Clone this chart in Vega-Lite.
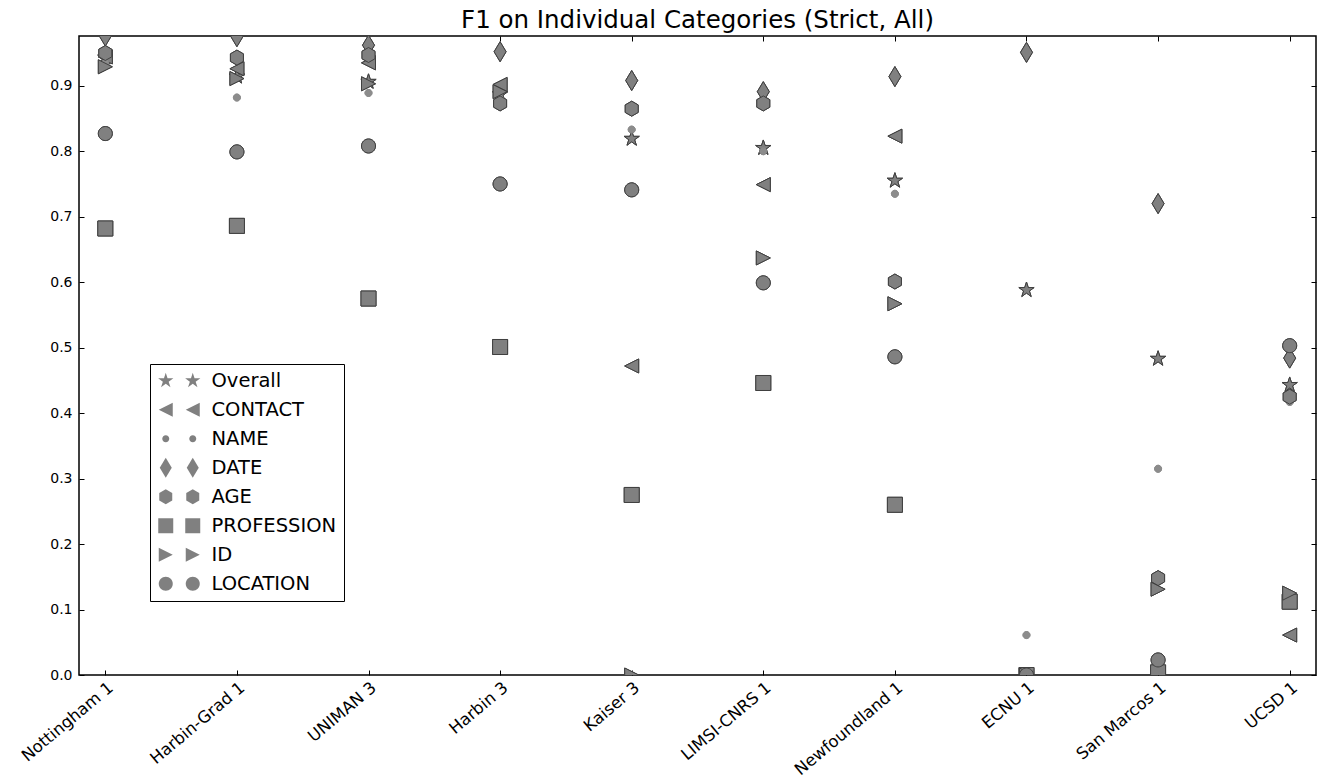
{
  "$schema": "https://vega.github.io/schema/vega-lite/v6.json",
  "width": 1237,
  "height": 639,
  "autosize": {"type": "none"},
  "padding": {"left": 79, "top": 36, "right": 13, "bottom": 106},
  "background": "white",
  "title": {"text": "F1 on Individual Categories (Strict, All)", "font": "DejaVu Sans", "fontSize": 24.5, "fontWeight": "normal", "color": "black", "anchor": "middle", "offset": 2},
  "config": {
    "view": {"stroke": "black", "strokeWidth": 1.5},
    "axis": {"grid": false, "domain": false, "labelFont": "DejaVu Sans", "labelFontSize": 14, "labelColor": "black", "tickColor": "black", "tickSize": -5, "tickWidth": 1, "title": null},
    "legend": {"gridAlign": "all"}
  },
  "datasets": {
    "f1": [
      {"system": "Nottingham 1", "category": "Overall", "f1": 0.943},
      {"system": "Harbin-Grad 1", "category": "Overall", "f1": 0.914},
      {"system": "UNIMAN 3", "category": "Overall", "f1": 0.906},
      {"system": "Harbin 3", "category": "Overall", "f1": 0.887},
      {"system": "Kaiser 3", "category": "Overall", "f1": 0.819},
      {"system": "LIMSI-CNRS 1", "category": "Overall", "f1": 0.805},
      {"system": "Newfoundland 1", "category": "Overall", "f1": 0.755},
      {"system": "ECNU 1", "category": "Overall", "f1": 0.588},
      {"system": "San Marcos 1", "category": "Overall", "f1": 0.483},
      {"system": "UCSD 1", "category": "Overall", "f1": 0.443},
      {"system": "Nottingham 1", "category": "CONTACT", "f1": 0.944},
      {"system": "Harbin-Grad 1", "category": "CONTACT", "f1": 0.926},
      {"system": "UNIMAN 3", "category": "CONTACT", "f1": 0.935},
      {"system": "Harbin 3", "category": "CONTACT", "f1": 0.902},
      {"system": "Kaiser 3", "category": "CONTACT", "f1": 0.472},
      {"system": "LIMSI-CNRS 1", "category": "CONTACT", "f1": 0.749},
      {"system": "Newfoundland 1", "category": "CONTACT", "f1": 0.823},
      {"system": "ECNU 1", "category": "CONTACT", "f1": 0.0},
      {"system": "San Marcos 1", "category": "CONTACT", "f1": 0.0},
      {"system": "UCSD 1", "category": "CONTACT", "f1": 0.061},
      {"system": "Nottingham 1", "category": "NAME", "f1": 0.935},
      {"system": "Harbin-Grad 1", "category": "NAME", "f1": 0.882},
      {"system": "UNIMAN 3", "category": "NAME", "f1": 0.889},
      {"system": "Harbin 3", "category": "NAME", "f1": 0.88},
      {"system": "Kaiser 3", "category": "NAME", "f1": 0.833},
      {"system": "LIMSI-CNRS 1", "category": "NAME", "f1": 0.8},
      {"system": "Newfoundland 1", "category": "NAME", "f1": 0.735},
      {"system": "ECNU 1", "category": "NAME", "f1": 0.061},
      {"system": "San Marcos 1", "category": "NAME", "f1": 0.315},
      {"system": "UCSD 1", "category": "NAME", "f1": 0.417},
      {"system": "Nottingham 1", "category": "DATE", "f1": 0.976},
      {"system": "Harbin-Grad 1", "category": "DATE", "f1": 0.975},
      {"system": "UNIMAN 3", "category": "DATE", "f1": 0.962},
      {"system": "Harbin 3", "category": "DATE", "f1": 0.952},
      {"system": "Kaiser 3", "category": "DATE", "f1": 0.908},
      {"system": "LIMSI-CNRS 1", "category": "DATE", "f1": 0.891},
      {"system": "Newfoundland 1", "category": "DATE", "f1": 0.914},
      {"system": "ECNU 1", "category": "DATE", "f1": 0.951},
      {"system": "San Marcos 1", "category": "DATE", "f1": 0.72},
      {"system": "UCSD 1", "category": "DATE", "f1": 0.484},
      {"system": "Nottingham 1", "category": "AGE", "f1": 0.95},
      {"system": "Harbin-Grad 1", "category": "AGE", "f1": 0.943},
      {"system": "UNIMAN 3", "category": "AGE", "f1": 0.947},
      {"system": "Harbin 3", "category": "AGE", "f1": 0.873},
      {"system": "Kaiser 3", "category": "AGE", "f1": 0.865},
      {"system": "LIMSI-CNRS 1", "category": "AGE", "f1": 0.873},
      {"system": "Newfoundland 1", "category": "AGE", "f1": 0.601},
      {"system": "ECNU 1", "category": "AGE", "f1": 0.0},
      {"system": "San Marcos 1", "category": "AGE", "f1": 0.148},
      {"system": "UCSD 1", "category": "AGE", "f1": 0.425},
      {"system": "Nottingham 1", "category": "PROFESSION", "f1": 0.682},
      {"system": "Harbin-Grad 1", "category": "PROFESSION", "f1": 0.686},
      {"system": "UNIMAN 3", "category": "PROFESSION", "f1": 0.575},
      {"system": "Harbin 3", "category": "PROFESSION", "f1": 0.501},
      {"system": "Kaiser 3", "category": "PROFESSION", "f1": 0.275},
      {"system": "LIMSI-CNRS 1", "category": "PROFESSION", "f1": 0.446},
      {"system": "Newfoundland 1", "category": "PROFESSION", "f1": 0.26},
      {"system": "ECNU 1", "category": "PROFESSION", "f1": 0.0},
      {"system": "San Marcos 1", "category": "PROFESSION", "f1": 0.004},
      {"system": "UCSD 1", "category": "PROFESSION", "f1": 0.112},
      {"system": "Nottingham 1", "category": "ID", "f1": 0.929},
      {"system": "Harbin-Grad 1", "category": "ID", "f1": 0.911},
      {"system": "UNIMAN 3", "category": "ID", "f1": 0.903},
      {"system": "Harbin 3", "category": "ID", "f1": 0.891},
      {"system": "Kaiser 3", "category": "ID", "f1": 0.0},
      {"system": "LIMSI-CNRS 1", "category": "ID", "f1": 0.637},
      {"system": "Newfoundland 1", "category": "ID", "f1": 0.567},
      {"system": "ECNU 1", "category": "ID", "f1": 0.0},
      {"system": "San Marcos 1", "category": "ID", "f1": 0.131},
      {"system": "UCSD 1", "category": "ID", "f1": 0.125},
      {"system": "Nottingham 1", "category": "LOCATION", "f1": 0.827},
      {"system": "Harbin-Grad 1", "category": "LOCATION", "f1": 0.799},
      {"system": "UNIMAN 3", "category": "LOCATION", "f1": 0.808},
      {"system": "Harbin 3", "category": "LOCATION", "f1": 0.75},
      {"system": "Kaiser 3", "category": "LOCATION", "f1": 0.741},
      {"system": "LIMSI-CNRS 1", "category": "LOCATION", "f1": 0.599},
      {"system": "Newfoundland 1", "category": "LOCATION", "f1": 0.486},
      {"system": "ECNU 1", "category": "LOCATION", "f1": 0.0},
      {"system": "San Marcos 1", "category": "LOCATION", "f1": 0.023},
      {"system": "UCSD 1", "category": "LOCATION", "f1": 0.503}
    ]
  },
  "data": {"name": "f1"},
  "layer": [
    {
      "mark": {"type": "point", "filled": true, "strokeWidth": 1, "opacity": 1, "size": 64, "clip": true},
      "encoding": {
        "x": {"field": "system", "type": "nominal", "sort": null, "scale": {"type": "point", "padding": 0.2}, "axis": {"orient": "bottom", "labelAngle": -40, "labelFontSize": 16.5, "labelPadding": 9}},
        "y": {"field": "f1", "type": "quantitative", "scale": {"domain": [0, 0.976], "nice": false, "zero": false}, "axis": {"orient": "left", "values": [0, 0.1, 0.2, 0.3, 0.4, 0.5, 0.6, 0.7, 0.8, 0.9], "format": ".1f", "labelPadding": 12}},
        "fill": {"condition": {"test": "datum.category === 'NAME'", "value": "#8c8c8c"}, "value": "#808080"},
        "stroke": {"condition": {"test": "datum.category === 'NAME'", "value": "#8c8c8c"}, "value": "#404040"},
        "shape": {"field": "category", "type": "nominal",
          "scale": {"domain": ["Overall", "CONTACT", "NAME", "DATE", "AGE", "PROFESSION", "ID", "LOCATION"],
            "range": [
              "M0,-2L0.449,-0.618L1.902,-0.618L0.726,0.236L1.176,1.618L0,0.764L-1.176,1.618L-0.726,0.236L-1.902,-0.618L-0.449,-0.618Z",
              "M-1.75,0L1.75,-1.75L1.75,1.75Z",
              "M-0.875,0A0.875,0.875,0,1,1,0.875,0A0.875,0.875,0,1,1,-0.875,0Z",
              "M0,-2.5L1.5,0L0,2.5L-1.5,0Z",
              "M0,-1.875L1.624,-0.9375L1.624,0.9375L0,1.875L-1.624,0.9375L-1.624,-0.9375Z",
              "M-1.875,-1.875L1.875,-1.875L1.875,1.875L-1.875,1.875Z",
              "M1.75,0L-1.75,-1.75L-1.75,1.75Z",
              "M-1.75,0A1.75,1.75,0,1,1,1.75,0A1.75,1.75,0,1,1,-1.75,0Z"
            ]},
          "legend": {"orient": "none", "legendX": 71, "legendY": 328, "title": null, "padding": 7, "strokeColor": "black", "labelFont": "DejaVu Sans", "labelFontSize": 19.5, "labelColor": "black", "labelOffset": 36, "symbolOffset": -1, "rowPadding": 4, "symbolSize": 64, "symbolFillColor": "#808080", "symbolStrokeColor": "#404040", "symbolStrokeWidth": 1, "symbolOpacity": 1}
        }
      }
    },
    {
      "mark": {"type": "point", "filled": true, "strokeWidth": 1, "opacity": 1, "size": 64, "clip": true},
      "encoding": {
        "x": {"field": "system", "type": "nominal", "sort": null, "scale": {"type": "point", "padding": 0.2}, "axis": {"orient": "top", "labels": false}},
        "y": {"field": "f1", "type": "quantitative", "scale": {"domain": [0, 0.976], "nice": false, "zero": false}, "axis": {"orient": "right", "labels": false, "values": [0, 0.1, 0.2, 0.3, 0.4, 0.5, 0.6, 0.7, 0.8, 0.9]}},
        "fill": {"condition": {"test": "datum.category === 'NAME'", "value": "#8c8c8c"}, "value": "#808080"},
        "stroke": {"condition": {"test": "datum.category === 'NAME'", "value": "#8c8c8c"}, "value": "#404040"},
        "shape": {"field": "category", "type": "nominal",
          "scale": {"domain": ["Overall", "CONTACT", "NAME", "DATE", "AGE", "PROFESSION", "ID", "LOCATION"],
            "range": [
              "M0,-2L0.449,-0.618L1.902,-0.618L0.726,0.236L1.176,1.618L0,0.764L-1.176,1.618L-0.726,0.236L-1.902,-0.618L-0.449,-0.618Z",
              "M-1.75,0L1.75,-1.75L1.75,1.75Z",
              "M-0.875,0A0.875,0.875,0,1,1,0.875,0A0.875,0.875,0,1,1,-0.875,0Z",
              "M0,-2.5L1.5,0L0,2.5L-1.5,0Z",
              "M0,-1.875L1.624,-0.9375L1.624,0.9375L0,1.875L-1.624,0.9375L-1.624,-0.9375Z",
              "M-1.875,-1.875L1.875,-1.875L1.875,1.875L-1.875,1.875Z",
              "M1.75,0L-1.75,-1.75L-1.75,1.75Z",
              "M-1.75,0A1.75,1.75,0,1,1,1.75,0A1.75,1.75,0,1,1,-1.75,0Z"
            ]},
          "legend": {"orient": "none", "legendX": 98, "legendY": 328, "title": null, "padding": 7, "labelExpr": "''", "labelFontSize": 19.5, "labelOffset": 0, "symbolOffset": -1, "rowPadding": 4, "symbolSize": 64, "symbolFillColor": "#808080", "symbolStrokeColor": "#404040", "symbolStrokeWidth": 1, "symbolOpacity": 1}
        }
      }
    }
  ],
  "resolve": {"scale": {"shape": "independent"}, "axis": {"x": "independent", "y": "independent"}, "legend": {"shape": "independent"}}
}
